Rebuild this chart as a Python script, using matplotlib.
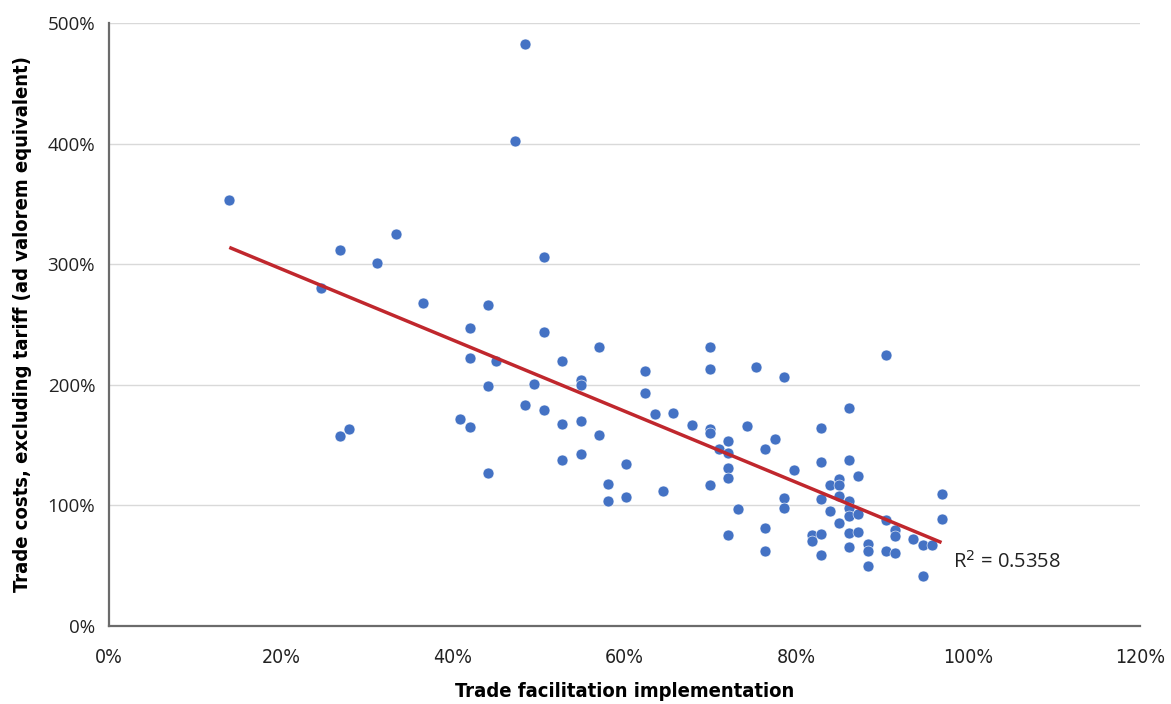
import numpy as np
import matplotlib
matplotlib.use("Agg")
import matplotlib.pyplot as plt
from matplotlib.ticker import PercentFormatter

# Trade facilitation implementation (%) and trade costs excl. tariff (% ad valorem eq.)
facilitation = [
    14.0, 26.9, 33.4, 31.2, 24.7, 36.6, 44.1, 42.0, 48.4, 47.3,
    50.6, 50.6, 42.0, 45.1, 44.1, 26.9, 27.9, 40.9, 42.0, 44.1,
    48.4, 49.5, 50.6, 52.7, 52.7, 52.7, 54.9, 54.9, 54.9, 54.9,
    57.0, 57.0, 58.1, 58.1, 60.2, 60.2, 62.4, 62.4, 63.5, 65.6,
    64.5, 67.8, 70.0, 70.0, 70.0, 70.0, 70.0, 71.0, 72.1, 72.1,
    72.1, 72.1, 72.1, 73.2, 74.3, 75.3, 76.4, 77.5, 76.4, 76.4,
    78.6, 78.6, 78.6, 79.7, 81.8, 81.8, 82.9, 82.9, 82.9, 82.9,
    82.9, 83.9, 83.9, 85.0, 85.0, 85.0, 85.0, 86.1, 86.1, 86.1,
    86.1, 86.1, 86.1, 86.1, 87.2, 87.2, 87.2, 88.3, 88.3, 88.3,
    90.4, 90.4, 90.4, 91.5, 91.5, 91.5, 93.6, 94.7, 94.7, 95.8,
    96.9, 96.9,
]
trade_costs = [
    353.7, 311.8, 325.0, 301.2, 280.5, 268.0, 266.0, 247.3, 482.7, 402.2,
    305.7, 244.0, 221.9, 219.7, 198.9, 157.2, 163.0, 171.5, 165.1, 126.5,
    182.9, 200.3, 179.0, 219.4, 167.4, 137.5, 203.9, 200.0, 169.6, 142.2,
    231.0, 158.0, 117.6, 103.5, 133.9, 106.8, 211.6, 193.4, 175.7, 176.8,
    111.8, 166.3, 231.0, 212.8, 163.0, 160.2, 116.5, 146.6, 153.0, 143.6,
    131.1, 122.3, 75.3, 96.6, 165.7, 214.4, 146.9, 154.7, 81.1, 61.7,
    206.6, 105.7, 97.4, 129.0, 75.3, 70.6, 164.3, 135.9, 105.1, 76.4,
    58.4, 116.8, 95.4, 121.7, 116.8, 107.6, 85.0, 180.4, 137.5, 103.2,
    97.9, 91.3, 76.9, 65.6, 124.2, 92.4, 77.5, 68.1, 62.0, 49.8,
    224.9, 88.0, 62.2, 79.4, 74.7, 60.3, 72.0, 67.2, 41.0, 67.2,
    109.0, 88.5,
]
r2_label = "R$^2$ = 0.5358"

x = np.array(facilitation)
y = np.array(trade_costs)

fig = plt.figure(figsize=(11.71, 7.04), dpi=100)
ax = fig.add_axes([0.0931, 0.1112, 0.8804, 0.8557])

# linear trend line over the data range
slope, intercept = np.polyfit(x, y, 1)
xs = np.array([x.min(), x.max()])
ax.plot(xs, slope * xs + intercept, color="#C0272D", lw=2.5, zorder=3,
        solid_capstyle="butt")

ax.scatter(x, y, s=62, color="#4472C4", edgecolors="white", linewidths=0.4,
           zorder=2)

ax.set_xlim(0, 120)
ax.set_ylim(0, 500)
ax.set_xticks(np.arange(0, 121, 20))
ax.set_yticks(np.arange(0, 501, 100))
ax.xaxis.set_major_formatter(PercentFormatter(decimals=0))
ax.yaxis.set_major_formatter(PercentFormatter(decimals=0))

ax.grid(axis="y", color="#d9d9d9", lw=1.0, zorder=0)
ax.set_axisbelow(True)
for side in ["top", "right"]:
    ax.spines[side].set_visible(False)
for side in ["left", "bottom"]:
    ax.spines[side].set_color("#6b6b6b")
    ax.spines[side].set_linewidth(1.6)
ax.tick_params(length=0)
ax.tick_params(axis="x", pad=16)
ax.tick_params(axis="y", pad=10)

for lbl in ax.get_xticklabels():
    lbl.set_family("DejaVu Sans")
    lbl.set_stretch("condensed")
    lbl.set_fontsize(14)
    lbl.set_color("#222222")
for lbl in ax.get_yticklabels():
    lbl.set_family(["Open Sans", "DejaVu Sans"])
    lbl.set_fontsize(13.5)
    lbl.set_color("#222222")

ax.set_xlabel("Trade facilitation implementation", fontsize=14.5,
              fontweight="bold", family="DejaVu Sans", fontstretch="condensed",
              labelpad=11)
ax.set_ylabel("Trade costs, excluding tariff (ad valorem equivalent)",
              fontsize=14.5, fontweight="bold", family="DejaVu Sans",
              fontstretch="condensed", labelpad=11)

ax.text(98.2, 53, r2_label, fontsize=14.5, color="#222222",
        family=["Open Sans", "DejaVu Sans"], va="center", ha="left")

fig.savefig("out.png", dpi=100)
